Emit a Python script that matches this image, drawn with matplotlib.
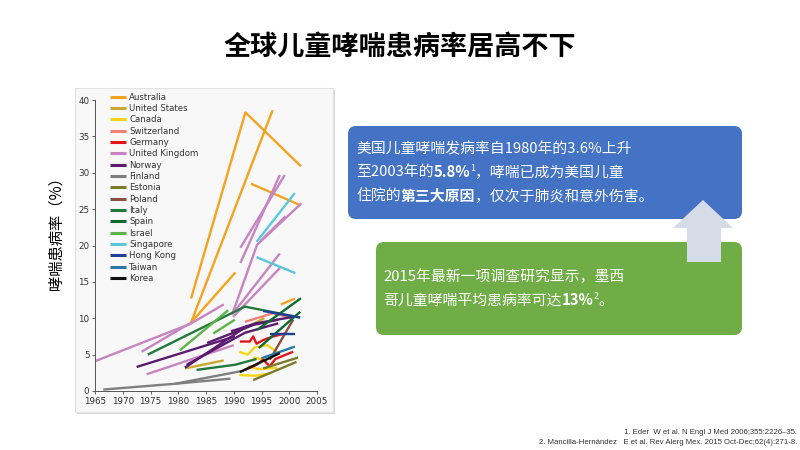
import matplotlib
matplotlib.use("Agg")
import matplotlib.pyplot as plt
from matplotlib.patches import FancyBboxPatch, Rectangle, Polygon

CJK = ["Noto Sans CJK SC", "DejaVu Sans"]

TITLE = "全球儿童哮喘患病率居高不下"
Y_LABEL = "哮喘患病率（%）"
X_TICKS = [1965, 1970, 1975, 1980, 1985, 1990, 1995, 2000, 2005]
Y_TICKS = [0, 5, 10, 15, 20, 25, 30, 35, 40]

# each country: list of (years, prevalence %) segments
AUSTRALIA = [([1982.3, 1992.1, 2002.1], [12.7, 38.3, 30.9]),
             ([1982.2, 1997.0], [9.2, 38.6]),
             ([1982.3, 1990.3], [9.4, 16.3]),
             ([1993.1, 2002.1], [28.5, 25.5]),
             ([1998.5, 2001.0], [11.9, 12.7])]
UNITED_STATES = [([1981.2, 1988.2], [3.1, 4.2]),
                 ([1990.4, 1995.5], [8.0, 10.0])]
CANADA = [([1991.0, 1992.5, 1993.8, 1996.0, 1997.8], [5.4, 5.0, 6.0, 6.3, 5.4]),
          ([1991.0, 1994.0, 1996.5], [2.2, 2.1, 2.4]),
          ([1992.5, 1994.5, 1997.8], [3.4, 3.0, 3.2]),
          ([1993.5, 1996.0], [4.6, 4.2])]
SWITZERLAND = [([1992.0, 1997.1, 2000.7], [9.5, 10.7, 10.0])]
GERMANY = [([1991.1, 1992.9, 1993.5, 1994.1, 1995.3, 1997.1, 1999.2],
            [6.8, 6.8, 7.5, 6.5, 7.0, 7.5, 7.9]),
           ([1992.0, 1994.1, 1995.3, 1996.5, 1997.5, 2000.7],
            [2.9, 3.6, 4.3, 3.4, 4.4, 5.4])]
UNITED_KINGDOM = [([1965.0, 1982.1, 1988.2], [4.1, 9.2, 11.9]),
                  ([1973.4, 1982.1], [5.4, 9.3]),
                  ([1974.3, 1990.0], [2.3, 6.3]),
                  ([1989.7, 1994.2, 2002.2], [10.5, 20.1, 25.8]),
                  ([1991.2, 1998.3], [17.6, 29.7]),
                  ([1991.2, 1999.2], [19.7, 29.7]),
                  ([1989.8, 1998.3], [10.6, 18.9]),
                  ([1989.9, 1998.3], [10.2, 16.9]),
                  ([1994.8, 1999.3], [20.6, 24.0])]
NORWAY = [([1972.5, 1990.2], [3.3, 7.5]),
          ([1981.2, 1990.2, 1992.5], [3.2, 7.8, 9.0]),
          ([1985.2, 1993.6, 1998.0], [6.6, 9.1, 9.8]),
          ([1981.5, 1992.0, 1998.0], [3.6, 8.0, 9.3]),
          ([1989.5, 1994.0, 2000.8], [8.2, 9.3, 10.2])]
FINLAND = [([1966.5, 1979.5, 1991.8], [0.2, 1.0, 2.8]),
           ([1979.5, 1989.4], [1.0, 1.7])]
ESTONIA = [([1993.5, 2001.3], [1.5, 4.0]),
           ([1995.3, 2001.6], [3.1, 4.6])]
POLAND = [([1996.5, 2000.7], [4.3, 9.8])]
ITALY = [([1974.5, 1992.0, 2002.0], [5.0, 11.6, 10.1]),
         ([1983.3, 1990.2, 1994.1], [2.9, 3.6, 4.4])]
SPAIN = [([1994.2, 2002.1], [8.4, 12.75]),
         ([1994.5, 2002.0], [5.9, 10.9])]
ISRAEL = [([1980.3, 1989.0], [5.6, 11.1]),
          ([1986.3, 1990.2], [7.9, 9.8])]
SINGAPORE = [([1994.1, 2001.0], [20.5, 27.2]),
             ([1994.1, 2001.1], [18.4, 16.2])]
HONG_KONG = [([1995.3, 2001.9], [11.0, 10.1]),
             ([1996.5, 2001.0], [7.9, 7.9])]
TAIWAN = [([1995.0, 2001.0], [4.5, 6.1])]
KOREA = [([1991.1, 1998.3], [2.6, 5.2])]

COUNTRIES = ["Australia", "United States", "Canada", "Switzerland", "Germany",
             "United Kingdom", "Norway", "Finland", "Estonia", "Poland", "Italy",
             "Spain", "Israel", "Singapore", "Hong Kong", "Taiwan", "Korea"]
COLORS = ["#f5a31f", "#c9a92e", "#f7d417", "#f08078", "#e3151a", "#c685c2",
          "#5a1a6e", "#7f7f7f", "#7b7b2a", "#8b5040", "#1f7a3c", "#0d6b2f",
          "#5cb347", "#5bc8d8", "#213f99", "#2a78a5", "#111111"]
SEGMENTS = [AUSTRALIA, UNITED_STATES, CANADA, SWITZERLAND, GERMANY,
            UNITED_KINGDOM, NORWAY, FINLAND, ESTONIA, POLAND, ITALY, SPAIN,
            ISRAEL, SINGAPORE, HONG_KONG, TAIWAN, KOREA]

BLUE_LINES = [[("美国儿童哮喘发病率自1980年的3.6%上升", False, False)],
              [("至2003年的", False, False), ("5.8%", True, False), ("1", False, True),
               ("，哮喘已成为美国儿童", False, False)],
              [("住院的", False, False), ("第三大原因", True, False),
               ("，仅次于肺炎和意外伤害。", False, False)]]
GREEN_LINES = [[("2015年最新一项调查研究显示，墨西", False, False)],
               [("哥儿童哮喘平均患病率可达", False, False), ("13%", True, False),
                ("2", False, True), ("。", False, False)]]
REFS = ["1. Eder  W et al. N Engl J Med 2006;355:2226–35.",
        "2. Mancilla-Hernández   E et al. Rev Alerg Mex. 2015 Oct-Dec;62(4):271-8."]

fig = plt.figure(figsize=(8, 4.5), dpi=100)
fig.patch.set_facecolor("white")

# overlay in pixel units for the slide elements
ov = fig.add_axes([0, 0, 1, 1], zorder=0)
ov.set_xlim(0, 800)
ov.set_ylim(450, 0)
ov.axis("off")

ov.text(400, 47, TITLE, ha="center", va="center", fontsize=19.5,
        fontweight="bold", family=CJK)

# chart picture frame
ov.add_patch(Rectangle((77, 90), 258, 324, fc="#d9d9d9", ec="none"))
ov.add_patch(Rectangle((75, 88), 258, 324, fc="#f8f8f8", ec="#e2e2e2", lw=0.8))
ov.text(56, 230, Y_LABEL, rotation=90, ha="center", va="center",
        fontsize=11, family=CJK)

# ── line chart ─────────────────────────────────────────────────────────
ax = fig.add_axes([95 / 800, 1 - 391 / 450, 222 / 800, 291 / 450], zorder=2)
ax.patch.set_alpha(0)
for name, color, segs in zip(COUNTRIES, COLORS, SEGMENTS):
    for j, (xs, ys) in enumerate(segs):
        ax.plot(xs, ys, color=color, lw=1.7, solid_capstyle="butt",
                label=name if j == 0 else None)
ax.set_xlim(1965, 2005)
ax.set_ylim(0, 40)
ax.set_xticks(X_TICKS)
ax.set_yticks(Y_TICKS)
ax.tick_params(labelsize=6.3, length=2.5, width=0.6, pad=1.5,
               colors="#444444", labelcolor="#333333")
ax.spines[["top", "right"]].set_visible(False)
for s in ["left", "bottom"]:
    ax.spines[s].set_linewidth(0.7)
    ax.spines[s].set_color("#555555")
leg = ax.legend(loc="upper left", bbox_to_anchor=(0.068, 1.025), frameon=False,
                fontsize=6.2, handlelength=1.8, handletextpad=0.4,
                labelspacing=0.27, borderpad=0, borderaxespad=0)
for line in leg.get_lines():
    line.set_linewidth(2.2)
for t in leg.get_texts():
    t.set_color("#333333")

# ── text boxes ─────────────────────────────────────────────────────────
ov.add_patch(FancyBboxPatch((348, 126), 394, 93, boxstyle="round,pad=0,rounding_size=8",
                            fc="#4472c4", ec="none", zorder=2))
ov.add_patch(FancyBboxPatch((376, 242), 366, 93, boxstyle="round,pad=0,rounding_size=8",
                            fc="#70ad47", ec="none", zorder=2))
ov.add_patch(Polygon([(673, 228), (703, 200), (733, 228), (721, 228), (721, 262),
                      (687, 262), (687, 228)], closed=True, fc="#d5dbe7", ec="none",
                     zorder=3))


def rich_line(x, y, parts, size=10.7):
    base = prev = None
    for text, bold, sup in parts:
        kw = dict(color="white", family=CJK, zorder=5,
                  fontweight="bold" if bold else "normal",
                  fontsize=size * 0.6 if sup else size)
        if base is None:
            base = prev = ov.text(x, y, text, ha="left", va="center", **kw)
        elif sup:
            prev = ov.annotate(text, xy=(1, 0.45), xycoords=prev, ha="left",
                               va="bottom", **kw)
        else:
            prev = ov.annotate(text, xy=(1, 0), xycoords=(prev, base), ha="left",
                               va="bottom", **kw)


for i, parts in enumerate(BLUE_LINES):
    rich_line(356, 149 + i * 24, parts)
for i, parts in enumerate(GREEN_LINES):
    rich_line(383, 277 + i * 24, parts)

for i, ref in enumerate(REFS):
    ov.text(797, 433 + i * 9.5, ref, ha="right", va="center", fontsize=5.6,
            family="Liberation Sans", color="#333333")

fig.savefig("out.png", dpi=100, facecolor="white")
